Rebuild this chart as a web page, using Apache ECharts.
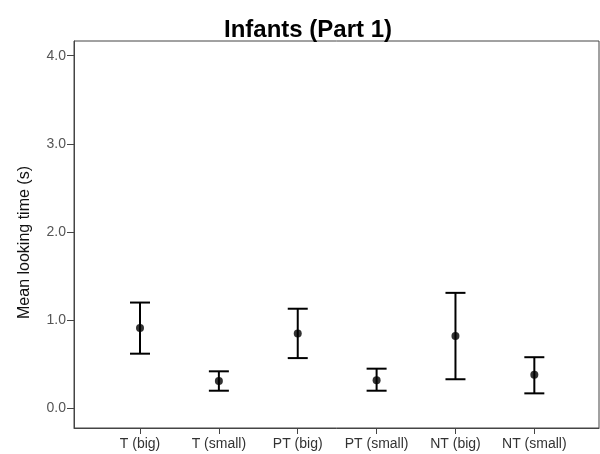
<!DOCTYPE html>
<html>
<head>
<meta charset="utf-8">
<script src="https://cdn.jsdelivr.net/npm/echarts@6/dist/echarts.min.js"></script>
<style>
  html, body { margin: 0; padding: 0; background: #fff; }
  #chart { width: 600px; height: 454px; }
</style>
</head>
<body>
<div id="chart"></div>
<script>
const categories = ["T (big)", "T (small)", "PT (big)", "PT (small)", "NT (big)", "NT (small)"];
const means = [0.91, 0.31, 0.85, 0.32, 0.82, 0.38];
const lowers = [0.62, 0.20, 0.57, 0.20, 0.33, 0.17];
const uppers = [1.20, 0.42, 1.13, 0.45, 1.31, 0.58];
const yTicks = [0, 1, 2, 3, 4];

const barData = categories.map((c, i) => [i, lowers[i], uppers[i]]);
const pointData = categories.map((c, i) => [i, means[i]]);

const chart = echarts.init(document.getElementById('chart'), null, {renderer: 'canvas'});
const option = {
    animation: false,
    title: {
        text: "Infants (Part 1)",
        left: 303,
        top: 13,
        textAlign: 'center',
        textStyle: {fontFamily: 'Liberation Sans', fontWeight: 'bold', fontSize: 24, color: '#000'}
    },
    grid: {
        left: 74, right: 1, top: 41, bottom: 26,
        show: true, borderColor: '#444', borderWidth: 1, backgroundColor: '#fff'
    },
    xAxis: {
        type: 'value',
        min: -0.837,
        max: 5.82,
        splitLine: {show: false},
        axisLine: {show: true, onZero: false, lineStyle: {color: '#444', width: 1}},
        axisTick: {show: true, length: 6, customValues: categories.map((c, i) => i), lineStyle: {color: '#444'}},
        axisLabel: {
            customValues: categories.map((c, i) => i),
            formatter: v => categories[Math.round(v)] || '',
            margin: 9,
            color: '#333',
            fontFamily: 'Liberation Sans',
            fontSize: 14
        }
    },
    yAxis: {
        type: 'value',
        min: -0.223,
        max: 4.167,
        name: "Mean looking time (s)",
        nameLocation: 'middle',
        nameGap: 41,
        nameTextStyle: {fontFamily: 'Liberation Sans', fontSize: 16, color: '#111', padding: [0, 16, 0, 0]},
        splitLine: {show: false},
        axisLine: {show: true, onZero: false, lineStyle: {color: '#444', width: 1}},
        axisTick: {show: true, length: 7, customValues: yTicks, lineStyle: {color: '#444'}},
        axisLabel: {
            customValues: yTicks,
            formatter: v => v.toFixed(1),
            margin: 8,
            color: '#555',
            fontFamily: 'Liberation Sans',
            fontSize: 14
        }
    },
    series: [
        {
            type: 'custom',
            data: barData,
            renderItem: function (params, api) {
                const x = api.value(0);
                const lo = api.coord([x, api.value(1)]);
                const hi = api.coord([x, api.value(2)]);
                const half = 10;
                const style = {stroke: '#000', lineWidth: 2};
                return {
                    type: 'group',
                    children: [
                        {type: 'line', shape: {x1: hi[0], y1: hi[1], x2: lo[0], y2: lo[1]}, style: style},
                        {type: 'line', shape: {x1: hi[0] - half, y1: hi[1], x2: hi[0] + half, y2: hi[1]}, style: style},
                        {type: 'line', shape: {x1: lo[0] - half, y1: lo[1], x2: lo[0] + half, y2: lo[1]}, style: style}
                    ]
                };
            },
            z: 2
        },
        {
            type: 'scatter',
            data: pointData,
            symbol: 'circle',
            symbolSize: 8,
            itemStyle: {color: '#000'},
            z: 3
        }
    ]
};
chart.setOption(option);
</script>
</body>
</html>
